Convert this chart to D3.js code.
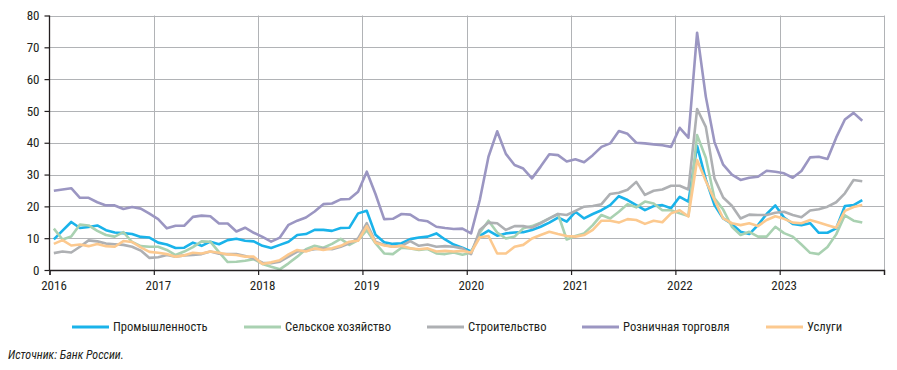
<!DOCTYPE html>
<html>
<head>
<meta charset="utf-8">
<script src="https://cdn.jsdelivr.net/npm/d3@7"></script>
<style>
    body { margin: 0; background: #fff; }
    svg text { font-family: "Liberation Sans Narrow", "Roboto Condensed", "Liberation Sans", sans-serif; }
</style>
</head>
<body>
<svg id="chart"></svg>
<script>
// Monthly data, Jan 2016 - Oct 2023
const start_year = 2016;
const year_ticks = [2016, 2017, 2018, 2019, 2020, 2021, 2022, 2023, 2024];
const y_ticks = [0, 10, 20, 30, 40, 50, 60, 70, 80];

const series_names = ["Промышленность", "Сельское хозяйство", "Строительство", "Розничная торговля", "Услуги"];
const series_colors = ["#1ab3ea", "#a9d1b1", "#aeb0b3", "#9b96c2", "#fcc98f"];

const industry = [
    9.6, 12.4, 15.1, 13.2, 13.5, 14.0, 12.5, 11.8, 11.6, 11.3, 10.4, 10.2, 8.6, 8.0, 6.9, 7.0, 8.6,
    7.6, 8.9, 8.1, 9.4, 9.8, 9.2, 9.0, 7.6, 6.9, 7.9, 8.9, 11.0, 11.3, 12.6, 12.6, 12.3, 13.2,
    13.3, 17.8, 18.6, 11.1, 8.7, 8.2, 8.4, 9.7, 10.2, 10.5, 11.5, 9.6, 8.0, 7.0, 5.8,
    10.7, 12.4, 10.8, 11.5, 11.8, 11.9, 12.6, 13.6, 14.9, 16.5, 15.2, 18.3, 16.2, 17.6, 18.8, 20.4, 23.2, 22.0,
    20.4, 18.8, 20.1, 20.4, 19.4, 23.0, 21.5, 39.0, 28.5, 20.4, 16.2, 14.5, 12.0, 11.3, 14.1, 17.6, 20.3,
    16.5, 14.5, 14.1, 14.7, 11.7, 11.7, 13.1, 20.1, 20.4, 22.0
];
const agriculture = [
    13.0, 9.6, 10.5, 14.3, 14.0, 12.3, 11.0, 10.5, 11.9, 8.8, 7.5, 7.3, 7.3, 6.3, 4.7, 5.8, 7.2,
    9.0, 8.9, 5.6, 2.5, 2.6, 2.9, 3.4, 1.9, 1.0, 0.2, 2.1, 4.2, 6.5, 7.6, 7.0, 8.2, 9.8,
    7.9, 9.4, 12.5, 8.4, 5.2, 5.0, 7.0, 6.8, 6.3, 6.6, 5.2, 5.0, 5.5, 4.8, 5.4,
    11.7, 15.5, 11.8, 9.9, 10.5, 13.1, 13.8, 14.9, 16.2, 17.6, 9.6, 10.7, 11.5, 14.1, 17.3, 16.2, 18.3, 20.7,
    19.7, 21.5, 20.9, 18.8, 18.8, 17.8, 17.0, 42.4, 35.3, 22.5, 19.0, 13.6, 11.0, 12.0, 10.5, 10.5, 13.6,
    11.6, 10.5, 8.0, 5.4, 5.0, 7.2, 11.2, 17.2, 15.5, 14.9
];
const construction = [
    5.3, 5.8, 5.5, 7.3, 9.3, 9.0, 8.3, 8.1, 7.9, 7.3, 6.1, 3.8, 4.0, 4.7, 4.2, 4.6, 4.7,
    5.0, 5.8, 5.1, 5.0, 5.0, 4.4, 3.6, 2.3, 2.1, 2.6, 4.2, 5.8, 6.1, 6.5, 6.8, 6.5, 7.3,
    8.4, 9.9, 14.7, 8.9, 7.9, 7.3, 7.6, 9.1, 7.6, 8.0, 7.3, 7.5, 7.3, 6.8, 5.0,
    12.6, 14.9, 14.7, 12.6, 13.8, 13.8, 13.3, 14.7, 16.2, 17.6, 17.3, 18.6, 19.9, 20.1, 20.7, 23.9, 24.3, 25.2,
    27.7, 23.6, 24.9, 25.3, 26.5, 26.5, 25.3, 50.6, 45.0, 28.8, 22.8, 20.2, 16.2, 17.4, 17.3, 17.3, 18.0,
    18.3, 17.3, 16.6, 18.7, 19.1, 19.9, 21.3, 24.1, 28.3, 27.9
];
const retail = [
    24.9, 25.3, 25.7, 22.7, 22.7, 21.3, 20.3, 20.3, 19.2, 19.8, 19.3, 17.7, 16.0, 13.1, 13.9, 13.9, 16.7,
    17.1, 16.9, 14.6, 14.6, 12.1, 13.3, 11.7, 10.4, 8.9, 10.2, 14.2, 15.5, 16.5, 18.4, 20.7, 20.9, 22.2,
    22.3, 24.6, 30.9, 23.9, 16.0, 16.1, 17.6, 17.4, 15.7, 15.3, 13.6, 13.2, 12.9, 13.0, 11.5,
    22.0, 35.6, 43.6, 36.5, 33.0, 31.9, 28.8, 32.5, 36.4, 36.1, 34.1, 34.8, 33.9, 36.1, 38.7, 39.8, 43.7, 42.8,
    40.0, 39.8, 39.5, 39.2, 38.7, 44.7, 41.6, 74.6, 54.5, 40.2, 33.1, 30.0, 28.3, 29.0, 29.3, 31.2, 30.9,
    30.4, 29.0, 31.1, 35.4, 35.6, 34.9, 41.6, 47.3, 49.4, 46.9
];
const services = [
    8.2, 9.4, 7.7, 8.0, 7.5, 8.2, 7.5, 7.3, 9.1, 8.8, 7.1, 5.7, 5.4, 5.0, 4.2, 4.6, 5.4,
    5.2, 5.8, 5.4, 4.9, 4.7, 4.2, 4.2, 1.9, 2.4, 3.1, 4.9, 6.3, 5.8, 6.8, 6.3, 6.8, 7.6,
    8.9, 9.2, 13.8, 8.6, 7.7, 7.3, 7.6, 6.8, 6.5, 6.8, 5.8, 6.0, 5.8, 6.0, 5.5,
    10.3, 10.7, 5.2, 5.2, 7.3, 7.9, 9.9, 11.0, 12.0, 11.3, 10.7, 10.5, 11.0, 12.6, 15.5, 15.5, 14.9, 16.0,
    15.7, 14.5, 15.5, 15.0, 17.8, 18.8, 16.8, 34.6, 28.0, 22.0, 16.2, 14.7, 14.1, 14.7, 13.8, 15.7, 16.9,
    16.1, 14.9, 14.7, 15.7, 14.9, 14.1, 13.3, 18.6, 19.8, 20.4
];

const series_values = [industry, agriculture, construction, retail, services];
const source_text = "Источник: Банк России.";

const chart_style = {
    width: 897,
    height: 370,
    left: 49.5,
    right: 884,
    top: 15.5,
    bottom: 270,
    grid_color: "#b1b3b6",
    axis_color: "#231f20",
    line_width: 2.6
};

const svg = d3.select("#chart")
    .attr("width", chart_style.width)
    .attr("height", chart_style.height);

// Scales:
const x = d3.scaleLinear()
    .domain([start_year, 2024])
    .range([chart_style.left, chart_style.right]);
const y = d3.scaleLinear()
    .domain([0, 80])
    .range([chart_style.bottom, chart_style.top]);

const month_x = i => x(start_year + (i + 0.5) / 12);

// Grid:
const grid = svg.append("g").attr("class", "grid");
grid.selectAll("line.h")
    .data(y_ticks.slice(1))
    .enter().append("line")
    .attr("class", "h")
    .attr("x1", chart_style.left)
    .attr("x2", chart_style.right)
    .attr("y1", d => Math.round(y(d)) + 0.5)
    .attr("y2", d => Math.round(y(d)) + 0.5)
    .attr("stroke", chart_style.grid_color)
    .attr("stroke-width", 1);
grid.selectAll("line.v")
    .data(year_ticks.slice(1))
    .enter().append("line")
    .attr("class", "v")
    .attr("x1", d => Math.round(x(d)) + 0.5)
    .attr("x2", d => Math.round(x(d)) + 0.5)
    .attr("y1", chart_style.top)
    .attr("y2", chart_style.bottom)
    .attr("stroke", chart_style.grid_color)
    .attr("stroke-width", 1);

// Lines:
const line = d3.line()
    .x((d, i) => month_x(i))
    .y(d => y(d));

svg.append("g")
    .attr("class", "lines")
    .selectAll("path")
    .data(series_values)
    .enter().append("path")
    .attr("d", d => line(d))
    .attr("fill", "none")
    .attr("stroke", (d, i) => series_colors[i])
    .attr("stroke-width", chart_style.line_width)
    .attr("stroke-linejoin", "round");

// Axes:
const y_axis = svg.append("g")
    .attr("transform", `translate(${chart_style.left},0)`)
    .call(d3.axisLeft(y).tickValues(y_ticks).tickSize(5).tickPadding(5));
const x_axis = svg.append("g")
    .attr("transform", `translate(0,${chart_style.bottom})`)
    .call(d3.axisBottom(x).tickValues(year_ticks).tickSize(5).tickPadding(6)
        .tickFormat(d => d < 2024 ? d : ""));

[y_axis, x_axis].forEach(ax => {
    ax.select(".domain").attr("stroke", chart_style.axis_color).attr("stroke-width", 1.3);
    ax.selectAll(".tick line").attr("stroke", chart_style.axis_color).attr("stroke-width", 1.2);
    ax.selectAll("text")
        .attr("fill", "#231f20")
        .attr("font-size", "13px")
        .style("font-family", null);
});
y_axis.select(".domain").attr("d", `M0,${chart_style.bottom}V${chart_style.top}`);
x_axis.selectAll(".tick text").attr("dx", 4);

// Legend:
const legend_x = [72, 244, 427, 582, 766];
const legend = svg.append("g")
    .attr("class", "legend")
    .selectAll("g")
    .data(series_names)
    .enter().append("g")
    .attr("transform", (d, i) => `translate(${legend_x[i]},327)`);
legend.append("line")
    .attr("x1", 0)
    .attr("x2", 37)
    .attr("stroke", (d, i) => series_colors[i])
    .attr("stroke-width", 3.2);
legend.append("text")
    .attr("x", 41)
    .attr("dy", "0.35em")
    .attr("font-size", "12.6px")
    .attr("fill", "#231f20")
    .text(d => d);

// Source:
svg.append("text")
    .attr("x", 8)
    .attr("y", 359)
    .attr("font-size", "12px")
    .attr("font-style", "italic")
    .attr("fill", "#231f20")
    .text(source_text);
</script>
</body>
</html>
